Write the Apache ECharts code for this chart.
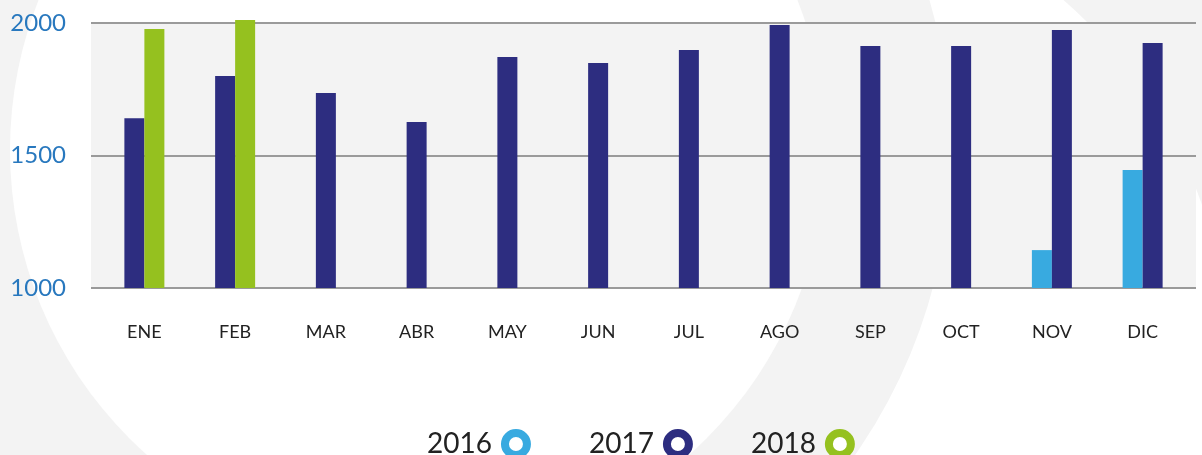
<!DOCTYPE html>
<html>
<head>
<meta charset="utf-8">
<style>
  html, body { margin: 0; padding: 0; background: #f3f3f3; }
  #chart { width: 1202px; height: 455px; }
</style>
<script src="https://cdn.jsdelivr.net/npm/echarts@6/dist/echarts.min.js"></script>
</head>
<body>
<div id="chart"></div>
<script>
const months = ['ENE', 'FEB', 'MAR', 'ABR', 'MAY', 'JUN', 'JUL', 'AGO', 'SEP', 'OCT', 'NOV', 'DIC'];
const years = ['2016', '2017', '2018'];
const v2016 = [null, null, null, null, null, null, null, null, null, null, 1143, 1445];
const v2017 = [1641, 1800, 1736, 1626, 1872, 1849, 1898, 1992, 1913, 1913, 1974, 1925];
const v2018 = [1977, 2011, null, null, null, null, null, null, null, null, null, null];
const yTicks = [1000, 1500, 2000];

const colors = { '2016': '#38aae0', '2017': '#2d2d80', '2018': '#95c11f' };

// 2017 sits next to 2016 / 2018 in the months they have data, centred otherwise
const with2016 = v2017.map((v, i) => (v2016[i] != null ? v : null));
const with2018 = v2017.map((v, i) => (v2018[i] != null ? v : null));
const alone = v2017.map((v, i) => (v2016[i] == null && v2018[i] == null ? v : null));

const chart = echarts.init(document.getElementById('chart'));

function bar(name, data, xAxisIndex) {
  return {
    name,
    type: 'bar',
    data,
    xAxisIndex,
    yAxisIndex: 1,
    barWidth: 20,
    barGap: '0%',
    itemStyle: { color: colors[name] },
    emphasis: { disabled: true }
  };
}

function hiddenX(gridIndex) {
  return { type: 'category', gridIndex, data: months, show: false };
}

chart.setOption({
  backgroundColor: '#f3f3f3',
  animation: false,
  textStyle: { fontFamily: 'Lato' },
  graphic: [
    { type: 'circle', z: -100, shape: { cx: 746, cy: 364, r: 483 }, style: { fill: '#ffffff' } },
    { type: 'circle', z: -99, shape: { cx: 418, cy: 150, r: 533 }, style: { fill: '#f3f3f3' } },
    { type: 'circle', z: -98, shape: { cx: 418, cy: 150, r: 408 }, style: { fill: '#ffffff' } }
  ],
  legend: {
    data: years.map((y) => ({
      name: y,
      icon: 'circle',
      itemStyle: { color: '#ffffff', borderColor: colors[y], borderWidth: 8 }
    })),
    align: 'right',
    left: 422,
    top: 424,
    itemWidth: 22,
    itemHeight: 22,
    itemGap: 58,
    selectedMode: false,
    textStyle: { fontFamily: 'Lato', fontSize: 28, color: '#222222', padding: [0, 8, 0, 0] }
  },
  grid: [
    { left: 91, right: 6, top: 23, bottom: 167, show: true, backgroundColor: '#f3f3f3', borderWidth: 0 },
    { left: 99, right: 14, top: 12.4, bottom: 167 }
  ],
  xAxis: [
    hiddenX(0),
    {
      type: 'category',
      gridIndex: 1,
      data: months,
      axisLine: { show: false },
      axisTick: { alignWithLabel: true, length: 24, lineStyle: { color: '#8c8c8c', width: 2 } },
      axisLabel: { margin: 35, fontSize: 18, color: '#222222', fontFamily: 'Lato' }
    },
    hiddenX(1),
    hiddenX(1)
  ],
  yAxis: [
    {
      type: 'value',
      gridIndex: 0,
      min: yTicks[0],
      max: yTicks[yTicks.length - 1],
      interval: 500,
      axisLine: { show: false },
      axisTick: { show: false },
      axisLabel: {
        margin: 25,
        fontSize: 24,
        color: '#2878be',
        fontFamily: 'Lato',
        formatter: (value) => String(value)
      },
      splitLine: { lineStyle: { color: '#9a9a9a', width: 2 } }
    },
    { type: 'value', gridIndex: 1, min: 1000, max: 2040, show: false, splitLine: { show: false } }
  ],
  series: [
    bar('2017', alone, 1),
    bar('2016', v2016, 2),
    bar('2017', with2016, 2),
    bar('2017', with2018, 3),
    bar('2018', v2018, 3)
  ]
});

window.addEventListener('resize', () => chart.resize());
</script>
</body>
</html>
